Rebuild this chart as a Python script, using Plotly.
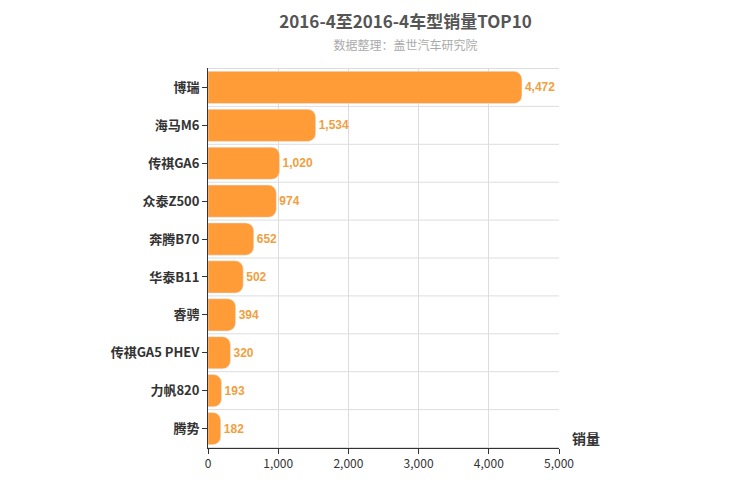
import plotly.graph_objects as go

models = ['博瑞', '海马M6', '传祺GA6', '众泰Z500', '奔腾B70', '华泰B11', '睿骋', '传祺GA5 PHEV', '力帆820', '腾势']
sales = [4472, 1534, 1020, 974, 652, 502, 394, 320, 193, 182]

fig = go.Figure(go.Bar(
    x=sales, y=models, orientation='h',
    marker=dict(color='#FF9C37', cornerradius=8),
    width=0.85,
    text=[f'<b>{v:,}</b>' for v in sales], textposition='outside',
    textfont=dict(color='#F0A040', size=12, family='Arial'),
    cliponaxis=False,
))

shapes = [dict(type='line', xref='paper', yref='y', x0=0, x1=1, y0=i + 0.5, y1=i + 0.5,
               line=dict(color='#DDDDDD', width=1), layer='below') for i in range(-1, len(models))]

fig.update_layout(
    width=750, height=500,
    plot_bgcolor='white', paper_bgcolor='white',
    margin=dict(l=200, r=199, t=60, b=60, autoexpand=False),
    title=dict(text='<b>2016-4至2016-4车型销量TOP10</b><br><span style="font-size:12px;color:#AAAAAA">数据整理：盖世汽车研究院</span>',
               x=0.53, xanchor='center', y=0.96, yanchor='top',
               font=dict(size=17, color='#555555', family='Noto Sans CJK SC')),
    font=dict(family='Noto Sans CJK SC', color='#333333'),
    xaxis=dict(range=[0, 5000], dtick=1000, tickformat=',', showgrid=True, gridcolor='#DDDDDD',
               zeroline=False, ticks='outside', tickcolor='#333', ticklen=5, automargin=False,
               showline=True, linecolor='#333', tickfont=dict(size=12, color='#333')),
    yaxis=dict(autorange='reversed', showline=True, linecolor='#333', ticks='outside',
               tickcolor='#333', ticklen=5, automargin=False,
               tickfont=dict(size=13, color='#333', family='Arial Black, Noto Sans CJK SC'),
               tickvals=models, ticktext=[f'<b>{m}</b>' for m in models]),
    shapes=shapes,
    annotations=[dict(text='<b>销量</b>', xref='paper', yref='paper', x=1.03, y=-0.005,
                      xanchor='left', yanchor='bottom', showarrow=False,
                      font=dict(size=14, color='#333'))],
    showlegend=False,
)

fig.write_html('out.html')
